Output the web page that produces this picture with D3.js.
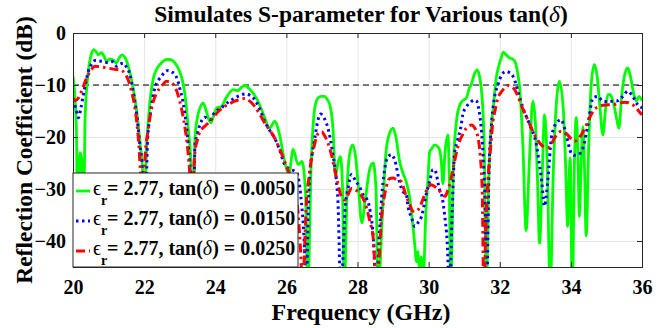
<!DOCTYPE html>
<html>
<head>
<meta charset="utf-8">
<script src="https://cdn.jsdelivr.net/npm/d3@7/dist/d3.min.js"></script>
<style>
  body { margin: 0; background: #fff; }
</style>
</head>
<body>
<svg id="chart" width="669" height="328"></svg>
<script>
// frequency (GHz) / reflection coefficient (dB)
const freqGreen = [20.00,20.06,20.10,20.14,20.19,20.24,20.28,20.34,20.43,20.50,20.58,20.65,20.71,20.80,20.88,20.95,21.03,21.09,21.15,21.21,21.30,21.37,21.47,21.55,21.62,21.69,21.79,21.88,21.96,22.00,22.05,22.14,22.26,22.35,22.44,22.54,22.63,22.72,22.82,22.92,23.00,23.08,23.15,23.24,23.33,23.36,23.43,23.50,23.57,23.66,23.73,23.80,23.88,23.95,24.04,24.18,24.28,24.36,24.50,24.63,24.73,24.83,24.93,25.02,25.11,25.20,25.30,25.39,25.53,25.67,25.81,25.95,26.07,26.19,26.33,26.44,26.54,26.60,26.70,26.80,26.89,26.98,27.08,27.15,27.22,27.31,27.38,27.45,27.52,27.58,27.62,27.72,27.80,27.87,27.95,28.03,28.12,28.22,28.35,28.44,28.52,28.58,28.70,28.80,28.90,29.00,29.08,29.18,29.28,29.37,29.45,29.51,29.61,29.66,29.70,29.74,29.79,29.85,29.92,29.98,30.03,30.08,30.17,30.26,30.31,30.36,30.40,30.46,30.54,30.58,30.62,30.70,30.80,30.87,30.96,31.06,31.15,31.20,31.28,31.36,31.42,31.48,31.54,31.57,31.62,31.70,31.76,31.81,31.90,31.97,32.04,32.10,32.18,32.28,32.35,32.42,32.50,32.56,32.65,32.74,32.84,32.93,33.00,33.06,33.12,33.19,33.26,33.33,33.42,33.50,33.57,33.68,33.79,33.85,33.91,33.95,33.98,34.04,34.10,34.15,34.20,34.24,34.29,34.34,34.38,34.43,34.50,34.57,34.66,34.75,34.82,34.90,34.97,35.04,35.10,35.18,35.26,35.35,35.43,35.52,35.60,35.68,35.76,35.84,35.92,36.00];
const dbGreen = [-8.3,-13,-20,-50,-23,-24,-50,-16.3,-7.4,-4.5,-3.2,-3.6,-4.2,-3.8,-4.6,-5.5,-5.0,-5.1,-5.3,-5.8,-4.8,-4.2,-4.8,-6.3,-8.2,-10.6,-15,-20.8,-27,-50,-26,-15,-8.7,-7.0,-6.1,-5.4,-5.1,-5.1,-5.4,-6.3,-7.4,-9.2,-11.9,-18.3,-27,-50,-20.2,-16.2,-14.4,-13.5,-14.6,-16.3,-17.3,-16,-14.4,-14.1,-12.8,-11.9,-10.9,-11.1,-10.5,-10.1,-10.5,-11.2,-12,-13.1,-14.7,-16.3,-18.3,-17,-19.6,-24.7,-27.2,-22.4,-25.3,-24.7,-31,-50,-24.7,-14.4,-12.5,-12.2,-12.2,-12.8,-13.8,-18.3,-27.6,-25,-23.8,-30,-50,-28,-22.5,-21.5,-24,-30,-36.5,-32,-26,-25,-30,-50,-35,-23,-19.3,-18.3,-20,-24.5,-27,-28.6,-31,-34,-40.7,-44,-42,-45.5,-43,-47,-35,-28.3,-22.8,-22.3,-21.5,-21.9,-22.5,-25,-29,-23,-19.6,-28,-50,-25,-16,-14.0,-13.0,-12.5,-10.5,-9.9,-8.0,-7.1,-8.0,-10.6,-17,-24,-50,-26,-18,-15,-8.7,-6.4,-4.8,-3.7,-4.2,-4.8,-5.0,-5.4,-7.5,-10.6,-21.5,-38,-23.6,-13.1,-17,-28,-40.4,-28,-15.7,-24,-50,-28,-16,-9.3,-15,-25,-37.2,-28,-24,-50,-25,-16.3,-24,-35.3,-25,-18,-25,-39,-22,-10,-6.1,-9,-14.5,-19.6,-15,-11.9,-11.8,-13,-15.5,-18.3,-12,-7.8,-6.7,-8.5,-11.5,-13.1,-12.2,-13];

const freqBlue = [20.00,20.08,20.15,20.22,20.29,20.36,20.43,20.52,20.62,20.74,20.86,20.98,21.10,21.17,21.23,21.32,21.41,21.50,21.60,21.69,21.79,21.88,21.96,22.01,22.09,22.18,22.30,22.40,22.49,22.58,22.68,22.78,22.87,22.95,23.00,23.08,23.15,23.24,23.32,23.36,23.43,23.50,23.57,23.65,23.71,23.78,23.85,23.95,24.04,24.15,24.27,24.40,24.55,24.70,24.88,25.00,25.11,25.25,25.39,25.53,25.67,25.81,25.95,26.05,26.14,26.22,26.30,26.40,26.50,26.56,26.62,26.66,26.73,26.80,26.88,26.96,27.05,27.17,27.31,27.40,27.45,27.53,27.66,27.73,27.83,27.95,28.06,28.15,28.25,28.35,28.45,28.52,28.62,28.70,28.78,28.86,28.95,29.05,29.19,29.28,29.37,29.42,29.52,29.61,29.70,29.80,29.94,30.03,30.12,30.17,30.31,30.36,30.45,30.52,30.59,30.66,30.73,30.80,30.92,30.96,31.06,31.15,31.29,31.34,31.42,31.48,31.55,31.58,31.63,31.70,31.76,31.85,31.95,32.05,32.18,32.27,32.37,32.44,32.51,32.65,32.84,33.03,33.10,33.17,33.26,33.35,33.45,33.52,33.59,33.73,33.80,33.87,34.01,34.10,34.20,34.34,34.48,34.62,34.76,34.90,35.05,35.20,35.28,35.46,35.60,35.74,35.88,36.00];
const dbBlue = [-12.8,-14.5,-16.3,-14.5,-11.9,-9.5,-7.4,-6.0,-5.3,-5.4,-5.5,-5.7,-5.5,-6.0,-6.4,-6.0,-5.8,-6.5,-8,-11.2,-15.6,-21.4,-27,-50,-21.5,-15.3,-10.6,-9.1,-8.3,-7.5,-7.2,-7.5,-8.0,-9.2,-10.6,-12.8,-15.7,-21.5,-30,-50,-21.5,-19.3,-17.6,-16.5,-16.2,-16.5,-16.7,-15.6,-15,-14.5,-13.8,-13.1,-12.5,-12,-11.7,-12.1,-12.8,-14.6,-17,-18.7,-20.2,-22.5,-25.3,-26,-26.3,-26.5,-27,-31,-40,-50,-33,-27,-23,-20.2,-17,-15.6,-16.2,-18.3,-23.4,-28,-32.3,-50,-33,-30,-27.2,-28.5,-29.6,-31,-31.8,-34,-40,-50,-38,-30,-25.5,-23.8,-23.4,-24.5,-28.9,-30.5,-31,-33.4,-35.5,-37.2,-36.5,-35.3,-30.8,-28.5,-26.3,-26.3,-30.2,-31,-35,-40,-50,-35,-23.1,-21,-17.5,-15.7,-14.2,-13.5,-12.9,-13,-15,-18.3,-26,-31,-50,-26,-18.3,-12.5,-9.9,-8.1,-7.4,-7.6,-8.3,-9.5,-11.2,-14.4,-17.6,-21.5,-24.5,-27.9,-33.3,-28.5,-20.2,-18.3,-17.3,-16.7,-17.8,-19.6,-23.1,-23.5,-23.4,-22.1,-17.6,-12.5,-12.2,-13.1,-13.2,-13.1,-13.1,-12.2,-11.2,-12.2,-13.8,-14.4];

const freqRed = [20.00,20.07,20.15,20.22,20.29,20.36,20.43,20.52,20.62,20.75,20.85,20.95,21.10,21.23,21.33,21.41,21.48,21.55,21.62,21.69,21.79,21.88,21.93,21.97,22.02,22.12,22.26,22.35,22.44,22.54,22.63,22.72,22.82,22.92,23.00,23.08,23.15,23.24,23.30,23.34,23.40,23.43,23.50,23.57,23.66,23.76,23.85,23.94,24.10,24.27,24.40,24.55,24.70,24.83,24.97,25.11,25.25,25.39,25.53,25.67,25.81,25.95,26.05,26.14,26.25,26.33,26.40,26.46,26.53,26.56,26.63,26.70,26.78,26.85,26.93,26.99,27.08,27.17,27.27,27.36,27.45,27.53,27.64,27.74,27.83,27.95,28.06,28.20,28.34,28.45,28.53,28.62,28.67,28.74,28.81,28.90,29.00,29.10,29.23,29.35,29.47,29.56,29.65,29.75,29.85,29.98,30.06,30.12,30.22,30.31,30.40,30.47,30.53,30.59,30.66,30.73,30.80,30.87,30.96,31.06,31.13,31.20,31.27,31.34,31.40,31.45,31.51,31.55,31.62,31.68,31.71,31.81,31.88,31.95,32.06,32.18,32.23,32.32,32.42,32.50,32.60,32.79,32.98,33.17,33.35,33.45,33.54,33.65,33.73,33.82,33.91,34.00,34.10,34.20,34.29,34.38,34.48,34.57,34.66,34.78,34.90,35.05,35.18,35.35,35.51,35.62,35.74,35.85,35.93,36.00];
const dbRed = [-12.5,-13.0,-12.5,-11.5,-10.3,-9.0,-8.0,-7.0,-6.4,-6.5,-6.6,-6.7,-6.9,-7.0,-7.1,-7.4,-8,-9,-10.5,-12.5,-17,-24.7,-33,-50,-24.7,-18.3,-13.1,-11.6,-10.6,-9.8,-9.3,-9.4,-9.9,-11.2,-13.1,-15.5,-18.3,-23.4,-30,-50,-26,-22.8,-20.5,-18.9,-18.2,-17.6,-17.0,-16.3,-15,-14.1,-13.6,-13.1,-12.8,-12.6,-13.1,-14.1,-15.6,-17.3,-18.7,-20.2,-22.3,-24.7,-26.5,-28,-31,-34.5,-42,-50,-38,-33,-28,-24.4,-21.8,-19.9,-19.1,-19,-19.8,-21.2,-23.5,-26.3,-29,-31.2,-32.1,-31,-29.9,-30.2,-30.8,-32.5,-36,-40,-50,-42,-36,-32,-29.6,-28,-27.9,-28.2,-28.6,-31,-33,-34.3,-34.3,-33.5,-31.8,-29.8,-29.2,-29.3,-29.8,-30.4,-31.2,-31.4,-30.4,-29.2,-27,-24.7,-22.5,-20.8,-19.5,-18.3,-17.9,-17.7,-18,-18.9,-20.5,-23.4,-31,-50,-35,-27,-24.7,-17,-14.5,-12.5,-11.2,-10.3,-10.1,-10.3,-10.9,-12.0,-13.8,-16.7,-19.6,-21.5,-22.1,-21.4,-20.2,-19.2,-18.9,-19.1,-19.6,-20.3,-20.8,-20.4,-19.6,-18.5,-17,-15.7,-14.7,-14.2,-13.9,-13.8,-13.8,-13.5,-13.3,-13.4,-13.8,-14.5,-15.2,-15.7];

const xTicks = [20, 22, 24, 26, 28, 30, 32, 34, 36];
const yTicks = [0, -10, -20, -30, -40];
const tanDelta = ["0.0050", "0.0150", "0.0250"];
const epsR = "2.77";
const refLevel = -10;

const svg = d3.select("#chart");
const pLeft = 73, pRight = 642, pTop = 33, pBottom = 267;
const font = "Liberation Serif";

const x = d3.scaleLinear().domain([20, 36]).range([pLeft, pRight]);
const y = d3.scaleLinear().domain([-45, 0]).range([pBottom, pTop]);

// grid
svg.append("g").attr("class", "grid")
    .attr("transform", "translate(0," + pBottom + ")")
    .call(d3.axisBottom(x).tickValues(xTicks).tickSize(-(pBottom - pTop)).tickFormat(""));
svg.append("g").attr("class", "grid")
    .attr("transform", "translate(" + pLeft + ",0)")
    .call(d3.axisLeft(y).tickValues(yTicks).tickSize(-(pRight - pLeft)).tickFormat(""));
svg.selectAll(".grid .domain").remove();
svg.selectAll(".grid line").attr("stroke", "#e6e6e6");

// -10 dB reference
svg.append("line")
    .attr("x1", x(20)).attr("x2", x(36))
    .attr("y1", y(refLevel)).attr("y2", y(refLevel))
    .attr("stroke", "#000").attr("stroke-width", 1.2)
    .attr("stroke-dasharray", "6,4");

svg.append("clipPath").attr("id", "plot")
  .append("rect").attr("x", pLeft).attr("y", pTop)
    .attr("width", pRight - pLeft).attr("height", pBottom - pTop);

const line = d3.line()
    .x(d => x(d[0]))
    .y(d => y(d[1]))
    .curve(d3.curveMonotoneX);

const series = [
  { f: freqGreen, v: dbGreen, color: "#00ff00", dash: null, w: 2.8 },
  { f: freqBlue, v: dbBlue, color: "#0000ff", dash: "2.5,3.5", w: 3 },
  { f: freqRed, v: dbRed, color: "#ff0000", dash: "9,4,2.5,4", w: 3 }
];

const plot = svg.append("g").attr("clip-path", "url(#plot)");
series.forEach(s => {
  plot.append("path")
      .datum(s.f.map((f, i) => [f, s.v[i]]))
      .attr("fill", "none")
      .attr("stroke", s.color)
      .attr("stroke-width", s.w)
      .attr("stroke-linejoin", "round")
      .attr("stroke-dasharray", s.dash);
});
plot.selectAll("path").attr("d", line);

// axes (ticks inward, box)
const axes = svg.append("g").attr("class", "axes");
axes.append("g")
    .attr("transform", "translate(0," + pBottom + ")")
    .call(d3.axisBottom(x).tickValues(xTicks).tickSize(-5).tickPadding(13));
axes.append("g")
    .attr("transform", "translate(0," + pTop + ")")
    .call(d3.axisTop(x).tickValues(xTicks).tickSize(-5).tickFormat(""));
axes.append("g")
    .attr("transform", "translate(" + pLeft + ",0)")
    .call(d3.axisLeft(y).tickValues(yTicks).tickSize(-5).tickPadding(7));
axes.append("g")
    .attr("transform", "translate(" + pRight + ",0)")
    .call(d3.axisRight(y).tickValues(yTicks).tickSize(-5).tickFormat(""));
axes.selectAll("g").attr("font-family", font);
axes.selectAll(".domain, .tick line").attr("stroke", "#262626");
axes.selectAll(".tick text")
    .style("font-family", font).style("font-size", "20px").style("font-weight", "bold")
    .attr("fill", "#000");

// title and axis labels
const title = svg.append("text")
    .attr("x", 361).attr("y", 22)
    .attr("text-anchor", "middle")
    .style("font-family", font)
    .style("font-size", "23.5px").style("font-weight", "bold");
title.append("tspan").text("Simulates S-parameter for Various tan(");
title.append("tspan").style("font-style", "italic").style("font-weight", "normal").text("δ");
title.append("tspan").text(")");

svg.append("text")
    .attr("x", 361).attr("y", 320)
    .attr("text-anchor", "middle")
    .style("font-family", font)
    .style("font-size", "24px").style("font-weight", "bold")
    .text("Frequency (GHz)");

svg.append("text")
    .attr("transform", "translate(32," + ((pTop + pBottom) / 2) + ") rotate(-90)")
    .attr("text-anchor", "middle")
    .style("font-family", font)
    .style("font-size", "23.5px").style("font-weight", "bold")
    .text("Reflection Coefficient (dB)");

// legend
const legend = svg.append("g").style("font-family", font);
legend.append("rect")
    .attr("x", pLeft).attr("y", 173)
    .attr("width", 225).attr("height", pBottom - 173)
    .attr("fill", "#fff").attr("stroke", "#262626").attr("stroke-width", 1);

series.forEach((s, i) => {
  const ly = 191 + i * 30;
  legend.append("line")
      .attr("x1", 76).attr("x2", 90).attr("y1", ly).attr("y2", ly)
      .attr("stroke", s.color).attr("stroke-width", s.w)
      .attr("stroke-dasharray", s.dash);
  const t = legend.append("text").attr("x", 93).attr("y", ly + 4)
      .style("font-family", font).style("font-size", "20px");
  t.append("tspan").text("ϵ");
  t.append("tspan").attr("dy", 10).style("font-size", "14px").style("font-weight", "bold").text("r");
  t.append("tspan").attr("x", 107).attr("dy", -10).style("font-weight", "bold").text("= " + epsR + ", tan(");
  t.append("tspan").style("font-style", "italic").text("δ");
  t.append("tspan").style("font-weight", "bold").text(") = " + tanDelta[i]);
});
</script>
</body>
</html>
